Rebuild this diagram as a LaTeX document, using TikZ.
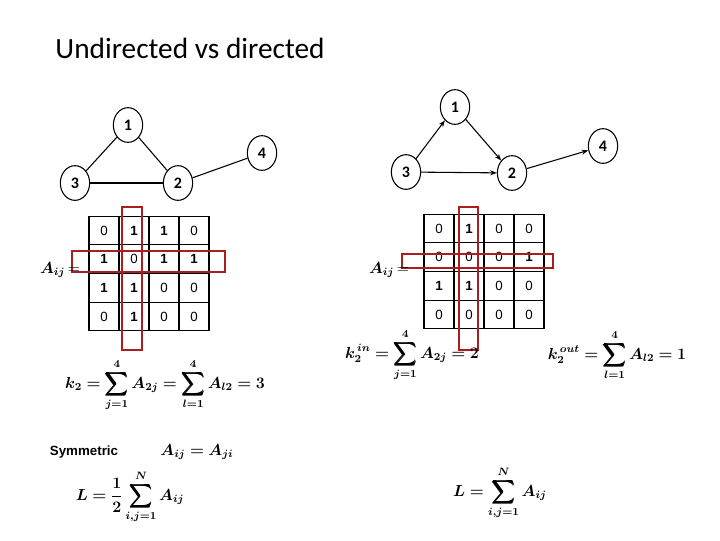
\documentclass[tikz,border=0pt]{standalone}
\usepackage{amsmath,bm}
\usepackage{fontspec}
\setsansfont{Carlito}
\newfontfamily\cellfont{Liberation Sans}
\usetikzlibrary{arrows.meta,shapes.geometric}
\begin{document}
\begin{tikzpicture}[x=0.75pt,y=-0.75pt,
  vtx/.style={draw,thick,ellipse,minimum width=22pt,minimum height=26pt,inner sep=0pt,font=\sffamily\bfseries\large},
  ed/.style={thick},
  dir/.style={thick,-{Stealth[length=5pt]}},
  cell/.style={draw,thick,minimum width=22.5pt,minimum height=21.5pt,inner sep=0pt,font=\cellfont\normalsize},
  red/.style={draw={rgb,255:red,170;green,30;blue,30},thick},
  fm/.style={font=\large}]
\useasboundingbox (0,0) rectangle (720,540);
\node[font=\sffamily\fontsize{22}{26}\selectfont] (title) at (190,48) {Undirected vs directed};
% left graph
\node[vtx] (a1) at (128,125) {1};
\node[vtx] (a4) at (262,153) {4};
\node[vtx] (a3) at (75,183) {3};
\node[vtx] (a2) at (178,183) {2};
\draw[ed] (a1)--(a3); \draw[ed] (a1)--(a2); \draw[ed] (a3)--(a2); \draw[ed] (a2)--(a4);
% right graph
\node[vtx] (b1) at (455,107) {1};
\node[vtx] (b4) at (603,146) {4};
\node[vtx] (b3) at (406,172) {3};
\node[vtx] (b2) at (512,173) {2};
\draw[dir] (b3)--(b1); \draw[dir] (b1)--(b2); \draw[dir] (b3)--(b2); \draw[dir] (b2)--(b4);
% matrices
\foreach \r/\row in {0/{0,{\bfseries 1},{\bfseries 1},0},1/{{\bfseries 1},0,{\bfseries 1},{\bfseries 1}},2/{{\bfseries 1},{\bfseries 1},0,0},3/{0,{\bfseries 1},0,0}}{
  \foreach \v [count=\c from 0] in \row {
    \node[cell] (L\r\c) at (104+30*\c,230.5+28.7*\r) {\v};}}
\foreach \r/\row in {0/{0,{\bfseries 1},0,0},1/{0,0,0,{\bfseries 1}},2/{{\bfseries 1},{\bfseries 1},0,0},3/{0,0,0,0}}{
  \foreach \v [count=\c from 0] in \row {
    \node[cell] (R\r\c) at (439+30*\c,228.5+28.7*\r) {\v};}}
\draw[red] (122,207) rectangle (142,350);
\draw[red] (72,251) rectangle (225,272);
\draw[red] (459,207) rectangle (478,350);
\draw[red] (402,254) rectangle (553,268);
\node[font=\large] (la) at (60,270) {$\bm{A_{ij}}\,\mathbf{=}$};
\node[font=\large] (ra) at (389,270) {$\bm{A_{ij}}\,\mathbf{=}$};
% formulas
\node[fm] (f1) at (165,385) {$\displaystyle\bm{k_2=\sum_{j=1}^{4}A_{2j}=\sum_{l=1}^{4}A_{l2}=3}$};
\node[fm] (f2) at (412,355) {$\displaystyle\bm{k_2^{\,in}=\sum_{j=1}^{4}A_{2j}=2}$};
\node[fm] (f3) at (617,355) {$\displaystyle\bm{k_2^{\,out}=\sum_{l=1}^{4}A_{l2}=1}$};
\node[font=\cellfont\bfseries\normalsize] (sym) at (84,452) {Symmetric};
\node[fm] (f4) at (197,452) {$\bm{A_{ij}=A_{ji}}$};
\node[fm] (f5) at (130,497) {$\displaystyle\bm{L=\frac{1}{2}\sum_{i,j=1}^{N}A_{ij}}$};
\node[fm] (f6) at (500,493) {$\displaystyle\bm{L=\sum_{i,j=1}^{N}A_{ij}}$};
\end{tikzpicture}
\end{document}
